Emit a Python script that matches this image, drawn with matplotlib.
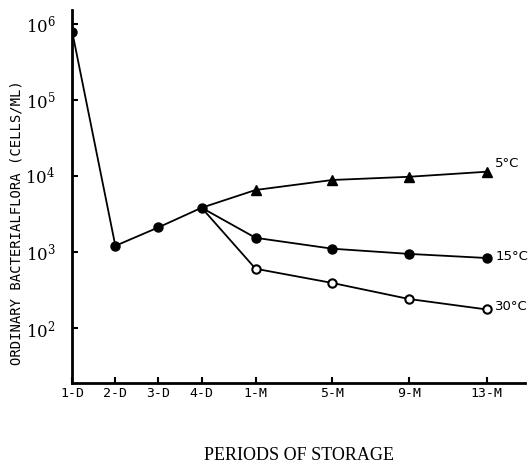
import matplotlib
matplotlib.use("Agg")
import matplotlib.pyplot as plt

# Storage periods and counts (cells/ml)
periods = ['1-D', '2-D', '3-D', '4-D', '1-M', '5-M', '9-M', '13-M']
tick_pos = [0, 1, 2, 3, 4.25, 6.03, 7.81, 9.61]  # uneven spacing as in original

common = [7.8e5, 1200, 2100, 3800]  # first four days, shared by all
temp_5 = [3800, 6500, 8800, 9700, 11300]
temp_15 = [3800, 1530, 1100, 940, 830]
temp_30 = [3800, 600, 390, 240, 175]
labels = ['5°C', '15°C', '30°C']

mono = 'DejaVu Sans Mono'
plt.rcParams['mathtext.fontset'] = 'dejavuserif'

fig = plt.figure(figsize=(5.31, 4.70), dpi=100)
ax = fig.add_axes([0.136, 0.185, 0.853, 0.794])

branch_x = tick_pos[3:]
after = list(range(1, len(branch_x)))  # no marker on the shared 4-D point
ax.plot(branch_x, temp_5, 'k-', marker='^', ms=7, lw=1.3, markevery=after)
ax.plot(branch_x, temp_15, 'k-', marker='o', ms=6.5, lw=1.3, markevery=after)
ax.plot(branch_x, temp_30, 'k-', marker='o', ms=6, lw=1.3, markevery=after,
        markerfacecolor='white', markeredgewidth=1.5)

ax.plot(tick_pos[:4], common, 'k-', marker='o', ms=6.5, lw=1.3)

# temperature labels at the end of each line
for ys, lab, dy in zip([temp_5, temp_15, temp_30], labels, [6, 1, 2]):
    ax.annotate(lab, (branch_x[-1], ys[-1]), xytext=(6, dy),
                textcoords='offset points', va='center', ha='left',
                fontsize=9.5, family='DejaVu Sans')

ax.set_yscale('log')
ax.set_ylim(10 ** 1.276, 10 ** 6.18)
ax.set_xlim(0, 10.5)

ax.set_yticks([1e2, 1e3, 1e4, 1e5, 1e6])
ax.set_yticklabels([r'$10^2$', r'$10^3$', r'$10^4$', r'$10^5$', r'$10^6$'],
                   fontsize=12)
ax.minorticks_off()
ax.set_xticks(tick_pos)
ax.set_xticklabels(periods, family=mono, fontsize=9.5)

for side in ['top', 'right']:
    ax.spines[side].set_visible(False)
ax.spines['left'].set_linewidth(2)
ax.spines['bottom'].set_linewidth(2)
ax.tick_params(axis='both', direction='in', length=4, width=1.5)
ax.tick_params(axis='x', pad=3)
ax.tick_params(axis='y', pad=12)

ax.set_xlabel('PERIODS OF STORAGE', family='Liberation Serif', fontsize=13,
              labelpad=34)
ax.set_ylabel('ORDINARY BACTERIALFLORA (CELLS/ML)', family=mono, fontsize=10)
ax.yaxis.set_label_coords(-0.108, 0.43)

fig.savefig('out.png', dpi=100)
